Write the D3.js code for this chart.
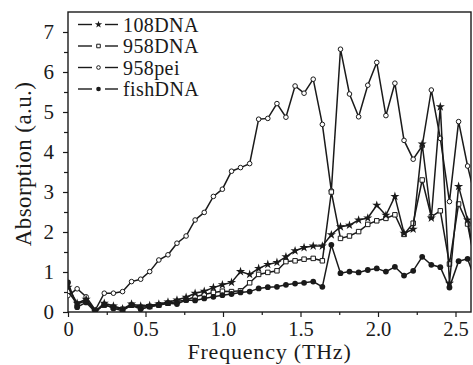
<!DOCTYPE html>
<html>
<head>
<meta charset="utf-8">
<script src="https://cdn.jsdelivr.net/npm/d3@7"></script>
<style>
  body{margin:0;background:#fff;}
  svg{display:block;}
  text{font-family:"Liberation Serif","DejaVu Serif",serif;}
</style>
</head>
<body>
<div id="chart"></div>
<script>
const freq = [0,0.059,0.117,0.176,0.234,0.293,0.352,0.41,0.469,0.527,0.586,0.645,0.703,0.762,0.82,0.879,0.938,0.996,1.055,1.113,1.172,1.23,1.289,1.348,1.406,1.465,1.523,1.582,1.641,1.699,1.758,1.816,1.875,1.934,1.992,2.051,2.109,2.168,2.227,2.285,2.344,2.402,2.461,2.52,2.578,2.637];

const dna108 = [0.62,0.22,0.32,0.02,0.22,0.15,0.08,0.2,0.15,0.16,0.2,0.25,0.3,0.37,0.47,0.52,0.61,0.68,0.74,1.01,0.94,1.09,1.19,1.24,1.38,1.53,1.61,1.65,1.65,1.93,2.13,2.17,2.3,2.35,2.67,2.42,2.89,1.97,2.07,4.2,2.35,5.13,0.72,3.14,2.3,1.0];
const dna958 = [0.52,0.2,0.28,0.03,0.17,0.12,0.07,0.17,0.12,0.14,0.18,0.22,0.26,0.3,0.38,0.44,0.49,0.52,0.51,0.53,0.73,0.94,0.99,1.03,1.26,1.28,1.32,1.34,1.28,3.0,1.84,1.9,2.01,2.19,2.28,2.34,2.43,1.94,2.22,3.3,2.38,2.53,1.2,2.7,2.2,1.0];
const pei958 = [0.41,0.58,0.38,0.05,0.47,0.47,0.51,0.76,0.82,1.01,1.3,1.43,1.72,1.9,2.3,2.49,2.89,3.07,3.52,3.61,3.71,4.82,4.84,5.21,4.87,5.65,5.47,5.82,4.69,3.03,6.57,5.45,4.88,5.67,6.24,4.91,5.72,4.29,3.82,4.15,5.55,4.34,2.76,4.76,3.65,2.7];
const fishDNA = [0.74,0.12,0.24,0.0,0.19,0.09,0.03,0.17,0.07,0.13,0.17,0.22,0.2,0.3,0.29,0.34,0.38,0.42,0.45,0.49,0.51,0.59,0.62,0.63,0.68,0.71,0.73,0.76,0.63,1.68,0.97,1.01,0.99,1.05,1.09,1.01,1.13,0.91,1.03,1.38,1.18,1.12,0.61,1.27,1.33,0.7];

const seriesNames = ["108DNA","958DNA","958pei","fishDNA"];
const xTicks = [0,0.5,1.0,1.5,2.0,2.5];
const xTickLabels = ["0","0.5","1.0","1.5","2.0","2.5"];
const yTicks = [0,1,2,3,4,5,6,7];

const W = 473, H = 365;
const mLeft = 68, mRight = 471, mTop = 12, mBottom = 312;
const ink = "#1a1a1a";
const serif = "'Liberation Serif','DejaVu Serif',serif";

const x = d3.scaleLinear().domain([0,2.6]).range([mLeft,mRight]);
const y = d3.scaleLinear().domain([0,7.5]).range([mBottom,mTop]);

const svg = d3.select("#chart").append("svg").attr("width",W).attr("height",H)
  .attr("font-family",serif);

svg.append("clipPath").attr("id","plot")
  .append("rect").attr("x",mLeft).attr("y",mTop).attr("width",mRight-mLeft).attr("height",mBottom-mTop);

// minor ticks
svg.append("g").attr("transform",`translate(0,${mBottom})`)
  .call(d3.axisBottom(x).tickValues(d3.range(0.25,2.6,0.5)).tickSize(3).tickFormat(""))
  .call(g=>g.select(".domain").remove());
svg.append("g").attr("transform",`translate(${mLeft},0)`)
  .call(d3.axisLeft(y).tickValues(d3.range(0.5,7.5,1)).tickSize(4).tickFormat(""))
  .call(g=>g.select(".domain").remove());

// major axes
const xAxisG = svg.append("g").attr("transform",`translate(0,${mBottom})`)
  .call(d3.axisBottom(x).tickValues(xTicks).tickSize(5).tickPadding(4).tickFormat((d,i)=>xTickLabels[i]))
  .call(g=>g.select(".domain").remove());
const yAxisG = svg.append("g").attr("transform",`translate(${mLeft},0)`)
  .call(d3.axisLeft(y).tickValues(yTicks).tickSize(5).tickPadding(9).tickFormat(d3.format("d")))
  .call(g=>g.select(".domain").remove());

svg.selectAll("g").attr("font-family",serif);
xAxisG.selectAll(".tick text").attr("font-size",20.5).attr("fill",ink);
yAxisG.selectAll(".tick text").attr("font-size",21).attr("fill",ink);
svg.selectAll(".tick line").attr("stroke",ink).attr("stroke-width",1.2);

// frame
svg.append("rect").attr("x",mLeft).attr("y",mTop).attr("width",mRight-mLeft).attr("height",mBottom-mTop)
  .attr("fill","none").attr("stroke",ink).attr("stroke-width",1.4);

const line = d3.line().x((d,i)=>x(freq[i])).y(d=>y(d));

const sets = [
  {name:seriesNames[2], vals:pei958, mark:"circle"},
  {name:seriesNames[1], vals:dna958, mark:"square"},
  {name:seriesNames[0], vals:dna108, mark:"star"},
  {name:seriesNames[3], vals:fishDNA, mark:"dot"}
];

function drawMark(sel, type, scale){
  const k = scale || 1;
  if(type==="circle"){
    sel.append("circle").attr("r",2.3*k).attr("fill","#fff").attr("stroke",ink).attr("stroke-width",1);
  } else if(type==="square"){
    sel.append("path").attr("d",d3.symbol(d3.symbolSquare,20*k*k)).attr("fill","#fff").attr("stroke",ink).attr("stroke-width",1);
  } else if(type==="star"){
    sel.append("path").attr("d",d3.symbol(d3.symbolStar,26*k*k)).attr("fill",ink);
  } else {
    sel.append("circle").attr("r",2.9*k).attr("fill",ink);
  }
}

const plot = svg.append("g").attr("clip-path","url(#plot)");

sets.forEach(s=>{
  plot.append("path").datum(s.vals)
    .attr("d",line).attr("fill","none").attr("stroke",ink).attr("stroke-width",1.5);
  const pts = plot.append("g").selectAll("g").data(s.vals).enter().append("g")
    .attr("transform",(d,i)=>`translate(${x(freq[i])},${y(d)})`);
  drawMark(pts, s.mark);
});

// legend
const legendMarks = ["star","square","circle","dot"];
const lg = svg.append("g").selectAll("g").data(seriesNames).enter().append("g")
  .attr("transform",(d,i)=>`translate(78,${24.5+i*21.5})`);
lg.append("line").attr("x1",0).attr("x2",14).attr("stroke",ink).attr("stroke-width",1.4);
lg.append("line").attr("x1",27).attr("x2",40).attr("stroke",ink).attr("stroke-width",1.4);
lg.each(function(d,i){
  drawMark(d3.select(this).append("g").attr("transform","translate(20.5,0)"), legendMarks[i], 0.8);
});
lg.append("text").text(d=>d).attr("x",45).attr("y",7)
  .attr("font-family",serif).attr("font-size",20).attr("letter-spacing",0.4).attr("fill",ink);

// axis titles
svg.append("text").text("Frequency (THz)")
  .attr("x",(mLeft+mRight)/2).attr("y",359).attr("text-anchor","middle")
  .attr("font-family",serif).attr("font-size",22).attr("letter-spacing",0.8).attr("fill",ink);
svg.append("text").text("Absorption (a.u.)")
  .attr("transform",`translate(31,164) rotate(-90)`).attr("text-anchor","middle")
  .attr("font-family",serif).attr("font-size",23).attr("letter-spacing",0.4).attr("fill",ink);
</script>
</body>
</html>
